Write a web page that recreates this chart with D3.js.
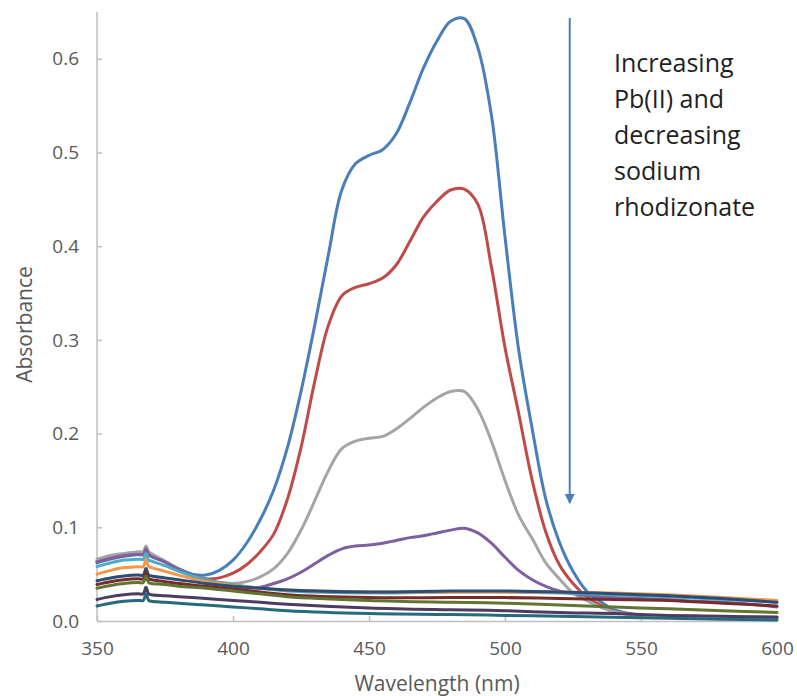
<!DOCTYPE html>
<html>
<head>
<meta charset="utf-8">
<script src="https://cdn.jsdelivr.net/npm/d3@7"></script>
<style>
  html, body { margin: 0; padding: 0; background: #fff; }
  svg { display: block; }
</style>
</head>
<body>
<div id="chart"></div>
<script>
// ---- data ----
const peakWavelengths = [350,355,360,365,367,368,369,370,375,380,385,390,395,400,405,410,415,420,425,430,435,440,445,450,455,460,465,470,475,480,485,490,495,500,505,510,515,520,525,530,535,540,550,560,570,580,590,600];
const blueValues   = [.062,.066,.069,.071,.071,.077,.071,.069,.063,.056,.050,.049,.054,.065,.083,.108,.140,.185,.245,.315,.390,.460,.488,.497,.503,.520,.553,.590,.619,.640,.643,.612,.540,.410,.290,.205,.130,.084,.053,.032,.021,.012,.006,.005,.005,.004,.004,.004];
const redValues    = [.064,.068,.070,.072,.072,.078,.072,.070,.063,.055,.048,.045,.046,.051,.060,.074,.093,.130,.185,.255,.315,.347,.356,.360,.366,.380,.405,.431,.448,.460,.461,.445,.378,.292,.222,.150,.095,.060,.040,.026,.017,.010,.006,.005,.005,.004,.004,.004];
const grayValues   = [.066,.070,.072,.074,.074,.080,.074,.072,.064,.055,.048,.043,.041,.040,.042,.047,.056,.072,.097,.128,.160,.184,.192,.195,.197,.205,.216,.228,.238,.245,.245,.226,.192,.150,.113,.088,.062,.045,.030,.022,.015,.010,.006,.005,.005,.004,.004,.004];
const purpleValues = [.063,.067,.070,.071,.071,.077,.071,.069,.063,.055,.048,.043,.039,.036,.035,.036,.040,.045,.052,.061,.070,.077,.080,.081,.083,.086,.089,.091,.094,.097,.099,.094,.083,.068,.054,.044,.037,.032,.029,.027,.026,.025,.024,.023,.021,.020,.018,.015];

const flatWavelengths = [350,355,360,365,367,368,369,370,375,380,390,400,410,420,450,480,500,520,540,560,580,600];
const aquaValues       = [.058,.062,.065,.066,.066,.072,.065,.064,.059,.053,.044,.039,.035,.032,.030,.031,.031,.030,.028,.026,.023,.020];
const orangeValues     = [.050,.054,.057,.058,.058,.066,.058,.057,.053,.049,.042,.038,.035,.033,.031,.031,.031,.031,.030,.028,.025,.022];
const darkBlueValues   = [.043,.046,.048,.049,.049,.056,.049,.048,.046,.044,.040,.037,.035,.033,.031,.032,.032,.031,.029,.027,.024,.020];
const darkRedValues    = [.039,.042,.044,.045,.045,.052,.045,.044,.042,.040,.037,.034,.031,.028,.025,.025,.025,.024,.023,.022,.019,.016];
const greenValues      = [.035,.038,.040,.041,.041,.048,.041,.040,.039,.037,.035,.032,.029,.026,.022,.020,.019,.017,.015,.013,.011,.009];
const darkPurpleValues = [.023,.026,.028,.029,.029,.036,.029,.028,.027,.026,.024,.022,.020,.018,.014,.012,.011,.009,.008,.006,.005,.004];
const tealValues       = [.016,.019,.021,.022,.022,.029,.022,.021,.020,.019,.017,.015,.013,.011,.008,.007,.006,.005,.004,.003,.002,.001];

const xTicks = [350,400,450,500,550,600];
const yTicks = [0,0.1,0.2,0.3,0.4,0.5,0.6];
const annotationLines = ["Increasing","Pb(II) and","decreasing","sodium","rhodizonate"];
const xTitle = "Wavelength (nm)";
const yTitle = "Absorbance";

const series = [
  {x: peakWavelengths, y: blueValues,   color: "#4A7EBB"},
  {x: peakWavelengths, y: redValues,    color: "#BE4B48"},
  {x: peakWavelengths, y: grayValues,   color: "#A5A5A5"},
  {x: peakWavelengths, y: purpleValues, color: "#7D60A0"},
  {x: flatWavelengths, y: aquaValues,       color: "#4BACC6"},
  {x: flatWavelengths, y: orangeValues,     color: "#F79646"},
  {x: flatWavelengths, y: darkBlueValues,   color: "#2C4D75"},
  {x: flatWavelengths, y: darkRedValues,    color: "#772C2A"},
  {x: flatWavelengths, y: greenValues,      color: "#5F7530"},
  {x: flatWavelengths, y: darkPurpleValues, color: "#4D3B62"},
  {x: flatWavelengths, y: tealValues,       color: "#276A7C"}
];

// ---- layout ----
const W = 797, H = 696;
const m = {left: 97, right: 20, top: 12, bottom: 75};
const svg = d3.select("#chart").append("svg").attr("width", W).attr("height", H);

const x = d3.scaleLinear().domain([350, 600]).range([m.left, W - m.right]);
const y = d3.scaleLinear().domain([0, 0.65]).range([H - m.bottom, m.top]);

const font = "'Open Sans', 'Liberation Sans', sans-serif";
const axisColor = "#BFBFBF";
const labelColor = "#595959";

// axes
const xAxis = svg.append("g").attr("transform", `translate(0,${y(0)})`)
  .call(d3.axisBottom(x).tickValues(xTicks).tickSizeInner(-5).tickSizeOuter(0).tickPadding(22).tickFormat(d3.format("d")));
const yAxis = svg.append("g").attr("transform", `translate(${x(350)},0)`)
  .call(d3.axisLeft(y).tickValues(yTicks).tickSizeInner(-5).tickSizeOuter(0).tickPadding(18).tickFormat(d3.format(".1f")));
[xAxis, yAxis].forEach(g => {
  g.select(".domain").attr("stroke", axisColor).attr("stroke-width", 1.5);
  g.selectAll(".tick line").attr("stroke", axisColor).attr("stroke-width", 1.5);
  g.selectAll(".tick text").attr("fill", labelColor).style("font-family", font).style("font-size", "19px");
});
xAxis.selectAll(".tick text").attr("dy", "0.62em");
yAxis.select(".domain").attr("d", `M0,${y(0)}V${y(0.65)}`);

// lines
const line = d3.line().curve(d3.curveCatmullRom.alpha(0.5));
const lineG = svg.append("g");
series.forEach(s => {
  const pts = s.x.map((w, i) => [x(w), y(s.y[i])]);
  lineG.append("path").attr("d", line(pts)).attr("fill", "none")
    .attr("stroke", s.color).attr("stroke-width", 3)
    .attr("stroke-linejoin", "round").attr("stroke-linecap", "round");
});

// axis titles
svg.append("text").attr("x", (x(350) + x(600)) / 2).attr("y", 691)
  .attr("text-anchor", "middle").attr("fill", labelColor)
  .style("font-family", font).style("font-size", "21px").text(xTitle);
svg.append("text").attr("transform", `translate(32,${(y(0) + y(0.65)) / 2 + 8}) rotate(-90)`)
  .attr("text-anchor", "middle").attr("fill", labelColor)
  .style("font-family", font).style("font-size", "21px").text(yTitle);

// arrow annotation
const arrowX = x(523.8);
svg.append("defs").append("marker").attr("id", "arrowhead")
  .attr("viewBox", "0 0 10 10").attr("refX", 9).attr("refY", 5)
  .attr("markerWidth", 5).attr("markerHeight", 6).attr("markerUnits", "strokeWidth")
  .attr("orient", "auto")
  .append("path").attr("d", "M0,0L10,5L0,10Z").attr("fill", "#4A7EBB");
svg.append("line").attr("x1", arrowX).attr("x2", arrowX).attr("y1", 18).attr("y2", 503)
  .attr("stroke", "#4A7EBB").attr("stroke-width", 2).attr("marker-end", "url(#arrowhead)");

const ann = svg.append("text").attr("x", 614).attr("y", 72)
  .attr("fill", "#1F1F1F").style("font-family", font).style("font-size", "25px");
annotationLines.forEach((t, i) => {
  ann.append("tspan").attr("x", 614).attr("y", 72 + i * 36).text(t);
});
</script>
</body>
</html>
